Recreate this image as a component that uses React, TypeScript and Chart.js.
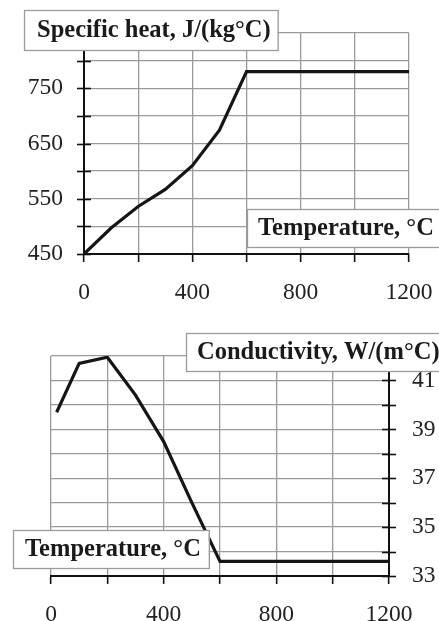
import React, { useEffect, useRef } from "react";
import { Chart, registerables } from "chart.js";

Chart.register(...registerables);

// ---- data ----
const heatTemps = [0, 100, 200, 300, 400, 500, 600, 1200];
const heatValues = [450, 497, 536, 567, 610, 674, 780, 780];
const condTemps = [20, 100, 200, 300, 400, 500, 600, 1200];
const condValues = [39.7, 41.7, 41.95, 40.4, 38.5, 36.0, 33.6, 33.6];

const tempTickLabels = [0, 400, 800, 1200];
const heatTickLabels = [450, 550, 650, 750];
const condTickLabels = [33, 35, 37, 39, 41];

const heatTitle = "Specific heat, J/(kg°C)";
const condTitle = "Conductivity, W/(m°C)";
const tempTitle = "Temperature, °C";

const SERIF = '"Liberation Serif", "DejaVu Serif", serif';

const boxPlugin = {
  id: "labelBoxes",
  afterDraw(chart: any, _args: any, opts: any) {
    const ctx = chart.ctx;
    const ys = chart.scales.y;
    const axisX = ys.position === "left" ? ys.right : ys.left;
    ctx.save();
    ctx.strokeStyle = "#111";
    ctx.lineWidth = 1.6;
    ys.ticks.forEach((t: any) => {
      const py = Math.round(ys.getPixelForValue(t.value)) + 0.5;
      ctx.beginPath();
      ctx.moveTo(axisX - 7, py);
      ctx.lineTo(axisX + 7, py);
      ctx.stroke();
    });
    (opts.boxes || []).forEach((b: any) => {
      ctx.font = `bold ${b.size}px ${SERIF}`;
      const w = ctx.measureText(b.text).width;
      const bw = w + b.padL + b.padR;
      ctx.fillStyle = "#fff";
      ctx.fillRect(b.x, b.y, bw, b.h);
      ctx.strokeStyle = "#9a9a9a";
      ctx.lineWidth = 1.3;
      ctx.strokeRect(b.x + 0.5, b.y + 0.5, bw, b.h);
      ctx.fillStyle = "#1a1a1a";
      ctx.textBaseline = "middle";
      ctx.textAlign = "left";
      ctx.fillText(b.text, b.x + b.padL, b.y + b.h / 2 + 1);
    });
    ctx.restore();
  },
};

function clearPad(s: any) {
  s.paddingLeft = 0;
  s.paddingRight = 0;
  s.paddingTop = 0;
  s.paddingBottom = 0;
}

function makeConfig(
  temps: number[],
  values: number[],
  yMin: number,
  yMax: number,
  yStep: number,
  yLabels: number[],
  yPos: "left" | "right",
  padding: any,
  yWidth: number,
  xHeight: number,
  yPad: number,
  boxes: any[]
): any {
  return {
    type: "line",
    data: {
      datasets: [
        {
          data: temps.map((t, i) => ({ x: t, y: values[i] })),
          borderColor: "#151515",
          borderWidth: 3.2,
          pointRadius: 0,
          tension: 0,
          fill: false,
        },
      ],
    },
    options: {
      animation: false,
      responsive: false,
      layout: { padding },
      plugins: {
        legend: { display: false },
        tooltip: { enabled: false },
        title: { display: false },
        labelBoxes: { boxes },
      },
      scales: {
        x: {
          type: "linear",
          min: 0,
          max: 1200,
          afterFit: (s: any) => {
            s.height = xHeight;
            clearPad(s);
          },
          ticks: {
            stepSize: 200,
            autoSkip: false,
            maxRotation: 0,
            padding: 17,
            color: "#222",
            font: { family: SERIF, size: 23.5 },
            callback: (v: any) => (tempTickLabels.includes(v) ? String(v) : ""),
          },
          grid: {
            color: "#9a9a9a",
            lineWidth: 1.3,
            drawTicks: true,
            tickLength: 8,
            tickColor: "#111",
            tickWidth: 1.6,
          },
          border: { color: "#111", width: 2 },
        },
        y: {
          type: "linear",
          position: yPos,
          min: yMin,
          max: yMax,
          afterFit: (s: any) => {
            s.width = yWidth;
            clearPad(s);
          },
          ticks: {
            stepSize: yStep,
            autoSkip: false,
            padding: yPad,
            color: "#222",
            font: { family: SERIF, size: 23.5 },
            callback: (v: any) => (yLabels.includes(v) ? String(v) : ""),
          },
          grid: {
            color: "#9a9a9a",
            lineWidth: 1.3,
            drawTicks: false,
          },
          border: { color: "#111", width: 2 },
        },
      },
    },
    plugins: [boxPlugin],
  };
}

export default function App() {
  const topRef = useRef<HTMLCanvasElement>(null);
  const botRef = useRef<HTMLCanvasElement>(null);

  useEffect(() => {
    const c1 = new Chart(
      topRef.current as HTMLCanvasElement,
      makeConfig(
        heatTemps,
        heatValues,
        450,
        850,
        50,
        heatTickLabels,
        "left",
        { left: 0, top: 33, right: 30, bottom: 0 },
        84,
        46,
        21,
        [
          { text: heatTitle, size: 24.5, x: 24, y: 10, h: 40, padL: 13, padR: 7 },
          { text: tempTitle, size: 24.5, x: 247, y: 209, h: 38, padL: 11, padR: 20 },
        ]
      )
    );
    const c2 = new Chart(
      botRef.current as HTMLCanvasElement,
      makeConfig(
        condTemps,
        condValues,
        33,
        42,
        1,
        condTickLabels,
        "right",
        { left: 51, top: 56, right: 0, bottom: 0 },
        50,
        45,
        23,
        [
          { text: condTitle, size: 24.5, x: 186, y: 33, h: 38, padL: 11, padR: 10 },
          { text: tempTitle, size: 24.5, x: 13, y: 230, h: 38, padL: 12, padR: 8 },
        ]
      )
    );
    return () => {
      c1.destroy();
      c2.destroy();
    };
  }, []);

  return (
    <div
      style={{
        position: "absolute",
        left: 0,
        top: 0,
        width: 439,
        height: 621,
        background: "#fff",
        overflow: "hidden",
      }}
    >
      <canvas
        ref={topRef}
        width={439}
        height={300}
        style={{ position: "absolute", left: 0, top: 0, width: 439, height: 300 }}
      />
      <canvas
        ref={botRef}
        width={439}
        height={321}
        style={{ position: "absolute", left: 0, top: 300, width: 439, height: 321 }}
      />
    </div>
  );
}
